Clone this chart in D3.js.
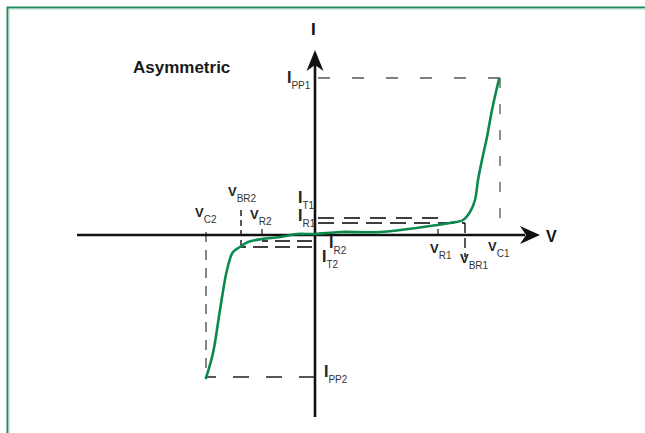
<!DOCTYPE html>
<html>
<head>
<meta charset="utf-8">
<script src="https://cdn.jsdelivr.net/npm/d3@7"></script>
<style>
  html, body { margin: 0; padding: 0; background: #fff; }
  svg { display: block; }
</style>
</head>
<body>
<svg id="chart" width="645" height="433"></svg>
<script>
// I–V characteristic of an asymmetric TVS diode (arbitrary units)
const title = "Asymmetric";
const curveV = [-10.9, -10.2, -9.5, -8.8, -8.2, -7.5, -6.7, -5.3, -3.5, -1.8, 0, 2.5, 6.5, 11.5, 13.5, 14.8, 15.5, 16.0, 16.3, 16.7, 17.2, 17.7, 18.4];
const curveI = [-14.3, -11.8, -7.5, -3.5, -1.7, -1.2, -0.7, -0.4, -0.2, 0.1, 0.1, 0.3, 0.3, 0.9, 1.2, 1.5, 2.3, 3.5, 5.5, 7.5, 9.8, 12.5, 15.6];

// characteristic voltages and currents
const vNames = ["C2", "BR2", "R2", "R1", "BR1", "C1"];
const vValues = [-10.9, -7.4, -5.3, 12.3, 15.0, 18.5];
const iNames = ["PP1", "T1", "R1", "R2", "T2", "PP2"];
const iValues = [15.7, 1.7, 1.2, -0.6, -1.2, -14.2];

const V = Object.fromEntries(vNames.map((n, k) => [n, vValues[k]]));
const I = Object.fromEntries(iNames.map((n, k) => [n, iValues[k]]));

const svg = d3.select("#chart");
const x = d3.scaleLinear().domain([-24, 24]).range([75, 555]);
const y = d3.scaleLinear().domain([-18.5, 18.5]).range([420, 50]);

// frame
svg.append("path").attr("d", "M645,7.5H7.5V433").attr("fill", "none")
  .attr("stroke", "#1f8a5b").attr("stroke-width", 2);
svg.append("path").attr("d", "M645,9H9V433").attr("fill", "none")
  .attr("stroke", "#a9d8bf").attr("stroke-width", 1);

// title
svg.append("text").attr("x", 133).attr("y", 73).text(title)
  .attr("font-family", "'Liberation Sans', Arial, sans-serif")
  .attr("font-weight", "bold").attr("font-size", 17).attr("fill", "#1a1a1a");

// dashed guides
const guides = svg.append("g").attr("fill", "none");
function hdash(i, v0, v1, dash, color, w) {
  guides.append("line").attr("x1", x(v0)).attr("x2", x(v1)).attr("y1", y(i)).attr("y2", y(i))
    .attr("stroke", color).attr("stroke-width", w).attr("stroke-dasharray", dash);
}
function vdash(v, i0, i1, dash, color, w) {
  guides.append("line").attr("x1", x(v)).attr("x2", x(v)).attr("y1", y(i0)).attr("y2", y(i1))
    .attr("stroke", color).attr("stroke-width", w).attr("stroke-dasharray", dash);
}
hdash(I.PP1, 0.3, V.C1, "12,22", "#555", 1.3);
vdash(V.C1, I.PP1, 0.3, "10,16", "#555", 1.3);
hdash(I.PP2, 0, V.C2, "16,17", "#222", 1.3);
vdash(V.C2, 0.3, I.PP2, "10,8", "#444", 1.3);
hdash(I.T1, 0.3, V.R1, "16,10", "#000", 1.3);
hdash(I.R1, 0.3, V.BR1, "16,8", "#000", 1.3);
vdash(V.BR1, I.R1, -2.2, "10,5", "#000", 1.3);
hdash(I.R2, -0.3, V.R2, "15,7", "#000", 1.3);
hdash(I.T2, -0.3, V.BR2, "15,7", "#000", 1.3);
vdash(V.BR2, 2.5, I.T2, "6,4", "#000", 1.3);
vdash(V.R1, 0.6, 0, null, "#111", 1.2);
vdash(V.R2, 0.6, 0, null, "#111", 1.2);

// axes
const axes = svg.append("g").attr("stroke", "#111").attr("stroke-width", 2.6);
axes.append("line").attr("x1", x(-23.8)).attr("x2", x(21)).attr("y1", y(0)).attr("y2", y(0));
axes.append("line").attr("x1", x(0)).attr("x2", x(0)).attr("y1", y(-18.2)).attr("y2", y(17));
// arrowheads
const tipX = x(22.5), tipY = y(18.5);
svg.append("path").attr("fill", "#111")
  .attr("d", `M${tipX},${y(0)}L${tipX - 20},${y(0) - 9}L${tipX - 14},${y(0)}L${tipX - 20},${y(0) + 9}Z`);
svg.append("path").attr("fill", "#111")
  .attr("d", `M${x(0)},${tipY}L${x(0) - 8.5},${tipY + 21}L${x(0)},${tipY + 15}L${x(0) + 8.5},${tipY + 21}Z`);

// characteristic curve
const pts = curveV.map((v, k) => [v, curveI[k]]);
svg.append("path").datum(pts)
  .attr("fill", "none").attr("stroke", "#0b8a4e").attr("stroke-width", 2.6)
  .attr("stroke-linejoin", "round").attr("stroke-linecap", "round")
  .attr("d", d3.line().x(d => x(d[0])).y(d => y(d[1])).curve(d3.curveCatmullRom.alpha(0.5)));

// labels
const font = "'Liberation Sans', Arial, sans-serif";
function label(main, sub, px, py, size) {
  const t = svg.append("text").attr("x", px).attr("y", py).attr("font-family", font);
  t.append("tspan").text(main).attr("font-weight", "bold").attr("font-size", size).attr("fill", "#222");
  t.append("tspan").text(sub).attr("font-size", 10).attr("fill", "#333").attr("dy", 6);
}
label("V", "C2", x(V.C2) - 11, y(0) - 18, 13);
label("V", "BR2", x(V.BR2) - 13, y(0) - 39, 13);
label("V", "R2", x(V.R2) - 12, y(0) - 16, 13);
label("V", "R1", x(V.R1) - 8, y(0) + 18, 13);
label("V", "BR1", x(V.BR1) - 5, y(0) + 28, 13);
label("V", "C1", x(V.C1) - 12, y(0) + 16, 13);
label("I", "T1", x(0) - 17, y(I.T1) - 15, 16);
label("I", "R1", x(0) - 17, y(I.R1) - 2, 16);
label("I", "R2", x(0) + 14, y(I.R2) + 7, 16);
label("I", "T2", x(0) + 7, y(I.T2) + 15, 16);
label("I", "PP1", x(0) - 28, y(I.PP1) + 5, 16);
label("I", "PP2", x(0) + 9, y(I.PP2) + 0, 16);

// axis names
svg.append("text").attr("x", 546).attr("y", y(0) + 7).text("V")
  .attr("font-family", font).attr("font-weight", "bold").attr("font-size", 16).attr("fill", "#111");
svg.append("text").attr("x", 311).attr("y", 35).text("I")
  .attr("font-family", font).attr("font-weight", "bold").attr("font-size", 17).attr("fill", "#111");
</script>
</body>
</html>
